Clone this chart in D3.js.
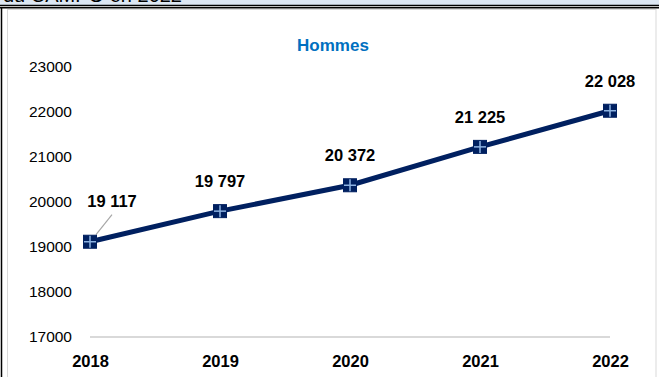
<!DOCTYPE html>
<html><head><meta charset="utf-8">
<script src="https://cdn.jsdelivr.net/npm/d3@7"></script>
<style>html,body{margin:0;padding:0;background:#fff;}svg{display:block;}</style>
</head><body>
<script>
const years = ["2018","2019","2020","2021","2022"];
const values = [19117, 19797, 20372, 21225, 22028];
const valueLabels = ["19 117","19 797","20 372","21 225","22 028"];
const yTicks = [17000,18000,19000,20000,21000,22000,23000];
const title = "Hommes";
const headerText = "du CAMPO en 2022";

const W = 659, H = 377;
const svg = d3.select("body").append("svg").attr("width", W).attr("height", H);

// header band
svg.append("rect").attr("x",0).attr("y",0).attr("width",W).attr("height",5).attr("fill","#dde7f3");
svg.append("text").attr("x",3).attr("y",2).attr("font-family","Liberation Sans, Arial, sans-serif")
  .attr("font-size",20).attr("fill","#000").text(headerText);
svg.append("rect").attr("x",0).attr("y",5).attr("width",W).attr("height",5).attr("fill","#fff");
svg.append("line").attr("x1",0).attr("x2",W).attr("y1",5.5).attr("y2",5.5).attr("stroke","#000").attr("stroke-width",1.5);
svg.append("line").attr("x1",0).attr("x2",W).attr("y1",7.8).attr("y2",7.8).attr("stroke","#000").attr("stroke-width",1.5);
svg.append("line").attr("x1",1.5).attr("x2",1.5).attr("y1",7).attr("y2",H).attr("stroke","#000").attr("stroke-width",1.5);
// chart border
svg.append("rect").attr("x",7.5).attr("y",9.5).attr("width",648.5).attr("height",H).attr("fill","none").attr("stroke","#d9d9d9").attr("stroke-width",1);

const x = d3.scalePoint().domain(years).range([90, 610]);
const y = d3.scaleLinear().domain([17000, 23000]).range([337, 67]);

// title
svg.append("text").attr("x",333).attr("y",51).attr("text-anchor","middle")
  .attr("font-family","Liberation Sans, Arial, sans-serif").attr("font-weight","bold").attr("font-size",17)
  .attr("fill","#0070c0").text(title);

// y axis labels
const ya = svg.append("g").attr("transform","translate(74,0)")
  .call(d3.axisLeft(y).tickValues(yTicks).tickFormat(d3.format("d")).tickSize(0).tickPadding(2));
ya.select(".domain").remove();
ya.selectAll("text").attr("font-family","Liberation Sans, Arial, sans-serif").attr("font-size",15.5).attr("fill","#000");

// baseline
svg.append("line").attr("x1",x(years[0])).attr("x2",x(years[years.length-1]))
  .attr("y1",y(17000)).attr("y2",y(17000)).attr("stroke","#d9d9d9").attr("stroke-width",2);

// x axis labels
const xa = svg.append("g").attr("transform",`translate(0,${y(17000)})`)
  .call(d3.axisBottom(x).tickSize(0).tickPadding(18));
xa.select(".domain").remove();
xa.selectAll("text").attr("font-family","Liberation Sans, Arial, sans-serif").attr("font-weight","bold")
  .attr("font-size",16.5).attr("fill","#000");

// line
const data = years.map((yr,i)=>({yr, v: values[i], lab: valueLabels[i]}));
svg.append("path").datum(data)
  .attr("d", d3.line().x(d=>x(d.yr)).y(d=>y(d.v)))
  .attr("fill","none").attr("stroke","#002060").attr("stroke-width",5).attr("stroke-linejoin","round");

// leader line for first label
svg.append("line").attr("x1",x(years[0])+6).attr("y1",y(values[0])-7)
  .attr("x2",x(years[0])+22).attr("y2",y(values[0])-27).attr("stroke","#a6a6a6").attr("stroke-width",1.2);

// markers
const m = svg.selectAll("g.mk").data(data).enter().append("g").attr("class","mk")
  .attr("transform",d=>`translate(${x(d.yr)},${y(d.v)})`);
m.append("rect").attr("x",-6.5).attr("y",-6.5).attr("width",13).attr("height",13).attr("fill","#002060").attr("stroke","#002060");
m.append("line").attr("x1",-6).attr("x2",6).attr("y1",0).attr("y2",0).attr("stroke","#8db3e2").attr("stroke-width",1.5);
m.append("line").attr("y1",-6).attr("y2",6).attr("x1",0).attr("x2",0).attr("stroke","#8db3e2").attr("stroke-width",1.5);

// value labels
svg.selectAll("text.vl").data(data).enter().append("text").attr("class","vl")
  .attr("x",(d,i)=> i===0 ? x(d.yr)+22 : x(d.yr))
  .attr("y",(d,i)=> i===0 ? y(d.v)-35 : y(d.v)-24)
  .attr("text-anchor","middle").attr("font-family","Liberation Sans, Arial, sans-serif")
  .attr("font-weight","bold").attr("font-size",16.5).attr("fill","#000").text(d=>d.lab);
</script>
</body></html>
